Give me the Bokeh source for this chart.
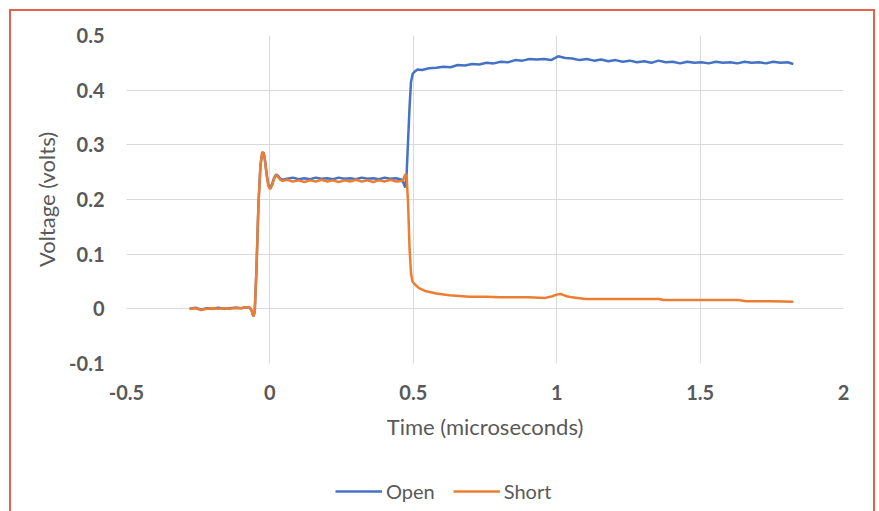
from bokeh.plotting import figure
from bokeh.models import Legend, LegendItem, Range1d, FixedTicker
from bokeh.layouts import column
from bokeh.embed import file_html
from bokeh.resources import INLINE

# ---- data ----
common_x = [-0.28, -0.26, -0.24, -0.22, -0.20, -0.18, -0.16, -0.14, -0.12, -0.10, -0.085, -0.07, -0.063,
            -0.058, -0.053, -0.047, -0.040, -0.033, -0.027, -0.022, -0.017, -0.011, -0.005, 0.001,
            0.008, 0.015, 0.022, 0.029, 0.036, 0.045, 0.06, 0.08, 0.10, 0.12, 0.14, 0.16, 0.18, 0.20,
            0.22, 0.24, 0.26, 0.28, 0.30, 0.32, 0.34, 0.36, 0.38, 0.40, 0.42, 0.44, 0.46]
open_common_y = [0.0, 0.002, -0.001, 0.001, 0.0, 0.002, 0.0, 0.001, 0.002, 0.001, 0.003, 0.002, -0.004,
                 -0.013, -0.006, 0.07, 0.19, 0.262, 0.284, 0.286, 0.272, 0.245, 0.226, 0.221,
                 0.229, 0.24, 0.246, 0.243, 0.238, 0.236, 0.238, 0.240, 0.237, 0.239, 0.237, 0.240, 0.238, 0.239,
                 0.237, 0.240, 0.238, 0.239, 0.237, 0.240, 0.238, 0.239, 0.237, 0.240, 0.238, 0.239, 0.236]
short_common_y = [0.0, 0.001, -0.002, 0.0, 0.001, 0.0, 0.001, 0.0, 0.002, 0.001, 0.003, 0.002, -0.004,
                  -0.014, -0.006, 0.07, 0.19, 0.262, 0.287, 0.285, 0.27, 0.243, 0.224, 0.219,
                  0.226, 0.238, 0.245, 0.241, 0.236, 0.234, 0.236, 0.233, 0.235, 0.232, 0.235, 0.233, 0.236, 0.233,
                  0.235, 0.232, 0.235, 0.233, 0.236, 0.233, 0.235, 0.232, 0.235, 0.233, 0.236, 0.233, 0.234]

open_tail_x = [0.466, 0.472, 0.477, 0.482, 0.487, 0.492, 0.498, 0.505, 0.515, 0.53, 0.555, 0.58, 0.605,
               0.63, 0.655, 0.68, 0.705, 0.73, 0.755, 0.78, 0.805, 0.83, 0.855, 0.88, 0.905, 0.93,
               0.955, 0.98, 1.005, 1.03, 1.055, 1.08, 1.105, 1.13, 1.155, 1.18, 1.205, 1.23, 1.255,
               1.28, 1.305, 1.33, 1.355, 1.38, 1.405, 1.43, 1.455, 1.48, 1.505, 1.53, 1.555, 1.58,
               1.605, 1.63, 1.655, 1.68, 1.705, 1.73, 1.755, 1.78, 1.805, 1.825]
open_tail_y = [0.230, 0.222, 0.25, 0.31, 0.37, 0.415, 0.430, 0.434, 0.438, 0.437, 0.440, 0.441, 0.443,
               0.442, 0.446, 0.445, 0.448, 0.447, 0.450, 0.449, 0.452, 0.451, 0.455, 0.454, 0.457, 0.456,
               0.457, 0.455, 0.462, 0.459, 0.458, 0.455, 0.457, 0.454, 0.456, 0.453, 0.455, 0.452, 0.454,
               0.451, 0.453, 0.450, 0.454, 0.451, 0.452, 0.449, 0.452, 0.450, 0.451, 0.449, 0.452, 0.450,
               0.451, 0.449, 0.452, 0.450, 0.451, 0.449, 0.452, 0.450, 0.451, 0.448]

short_tail_x = [0.466, 0.472, 0.477, 0.482, 0.487, 0.492, 0.497, 0.505, 0.52, 0.545, 0.58, 0.626,
                0.695, 0.75, 0.80, 0.85, 0.90, 0.96, 0.985, 1.0, 1.015, 1.035, 1.053, 1.10, 1.2,
                1.3, 1.356, 1.373, 1.45, 1.55, 1.634, 1.66, 1.75, 1.825]
short_tail_y = [0.238, 0.246, 0.242, 0.19, 0.11, 0.065, 0.05, 0.045, 0.038, 0.032, 0.028, 0.025,
                0.022, 0.022, 0.021, 0.021, 0.021, 0.020, 0.023, 0.026, 0.027, 0.023, 0.021, 0.018, 0.018,
                0.018, 0.018, 0.016, 0.016, 0.016, 0.016, 0.014, 0.014, 0.013]

open_x = common_x + open_tail_x
open_y = open_common_y + open_tail_y
short_x = common_x + short_tail_x
short_y = short_common_y + short_tail_y

series_names = ["Open", "Short"]
x_ticks = [-0.5, 0, 0.5, 1, 1.5, 2]
y_ticks = [-0.1, 0, 0.1, 0.2, 0.3, 0.4, 0.5]

BLUE = "#4472c4"
ORANGE = "#ed7d31"
FONT = "Lato"
TXT = "#595959"

# ---- main chart ----
p = figure(width=862, height=460, output_backend="svg", toolbar_location=None,
           x_range=Range1d(-0.5, 2), y_range=Range1d(-0.1, 0.5),
           min_border_left=115, min_border_right=30, min_border_top=24, min_border_bottom=108)
p.outline_line_color = None
p.background_fill_color = "white"
p.border_fill_color = "white"

p.xgrid.ticker = FixedTicker(ticks=x_ticks)
p.ygrid.ticker = FixedTicker(ticks=y_ticks)
p.xgrid.grid_line_color = "#d9d9d9"
p.ygrid.grid_line_color = "#d9d9d9"

for ax in (p.xaxis[0], p.yaxis[0]):
    ax.axis_line_color = None
    ax.major_tick_line_color = None
    ax.minor_tick_line_color = None
    ax.major_label_text_font = FONT
    ax.major_label_text_font_size = "20px"
    ax.major_label_text_font_style = "bold"
    ax.major_label_text_color = TXT
    ax.axis_label_text_font = FONT
    ax.axis_label_text_font_size = "22px"
    ax.axis_label_text_font_style = "normal"
    ax.axis_label_text_color = TXT

p.xaxis.ticker = FixedTicker(ticks=x_ticks)
p.yaxis.ticker = FixedTicker(ticks=y_ticks)
p.xaxis.major_label_overrides = {-0.5: "-0.5", 0: "0", 0.5: "0.5", 1: "1", 1.5: "1.5", 2: "2"}
p.yaxis.major_label_overrides = {-0.1: "-0.1", 0: "0", 0.1: "0.1", 0.2: "0.2", 0.3: "0.3", 0.4: "0.4", 0.5: "0.5"}
p.xaxis.major_label_standoff = 15
p.yaxis.major_label_standoff = 16
p.xaxis.axis_label = "Time (microseconds)"
p.yaxis.axis_label = "Voltage (volts)"
p.xaxis.axis_label_standoff = 10
p.yaxis.axis_label_standoff = 6

p.line(open_x, open_y, line_color=BLUE, line_width=2.5)
p.line(short_x, short_y, line_color=ORANGE, line_width=2.5)

# ---- legend strip below (series lines kept out of view; only the key shows) ----
lg = figure(width=862, height=50, output_backend="svg", toolbar_location=None,
            x_range=Range1d(-0.5, 2), y_range=Range1d(5, 6),
            min_border=0, min_border_left=0, min_border_right=0, min_border_top=0, min_border_bottom=0)
lg.axis.visible = False
lg.grid.visible = False
lg.outline_line_color = None
lg.border_fill_color = "white"
k_open = lg.line(open_x, open_y, line_color=BLUE, line_width=2.5)
k_short = lg.line(short_x, short_y, line_color=ORANGE, line_width=2.5)
legend = Legend(items=[LegendItem(label=series_names[0], renderers=[k_open]),
                       LegendItem(label=series_names[1], renderers=[k_short])],
                orientation="horizontal", location=(209, 18),
                label_text_font=FONT, label_text_font_size="20px", label_text_color=TXT,
                glyph_width=47, glyph_height=12, label_standoff=4, spacing=18,
                border_line_color=None, background_fill_alpha=0, padding=0, margin=0)
lg.add_layout(legend, "center")

layout = column(p, lg, spacing=0)
layout.margin = (9, 0, 0, 9)
layout.styles = {"border": "2px solid #e2634a", "background-color": "white"}

open("out.html", "w").write(file_html(layout, INLINE))
